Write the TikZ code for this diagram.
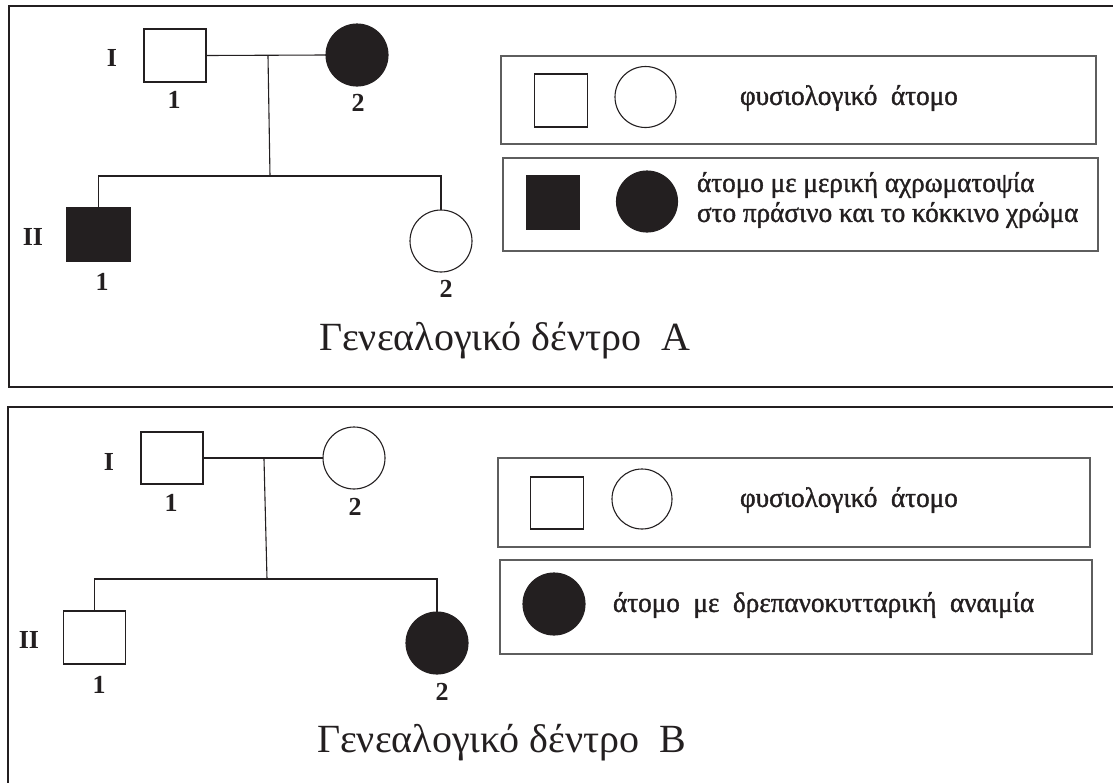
\documentclass[tikz,border=0pt]{standalone}
\usepackage{fontspec}
\setmainfont{Liberation Serif}
\newfontfamily\legfont[FakeBold=1.3,FakeStretch=0.97]{Liberation Serif}
\definecolor{ink}{HTML}{231F20}
\definecolor{boxgray}{HTML}{5E5E5E}
\begin{document}
\begin{tikzpicture}[x=1pt,y=-1pt,
  every node/.style={inner sep=0pt, outer sep=0pt},
  frame/.style={line width=2.6pt, draw=ink},
  legbox/.style={line width=1.6pt, draw=boxgray},
  male/.style={rectangle, draw=ink, line width=1.1pt, minimum width=62pt, minimum height=53pt},
  female/.style={circle, draw=ink, line width=1.1pt, minimum size=62pt},
  lmale/.style={rectangle, draw=ink, line width=1.1pt, minimum width=53pt, minimum height=53pt},
  lfemale/.style={circle, draw=ink, line width=1.1pt, minimum size=61pt},
  affected/.style={fill=ink},
  link/.style={draw=ink, line width=1.1pt},
  num/.style={font=\bfseries\fontsize{26}{28}\selectfont, text=ink},
  title/.style={font=\fontsize{40}{44}\selectfont, anchor=west, text=ink},
  legtext/.style={font=\legfont\fontsize{28}{30}\selectfont, anchor=west, align=left, text=ink},
]
\useasboundingbox (0,0) rectangle (1113,782);
\begin{scope}
  \clip (0,0) rectangle (1113,782);
  \draw[frame] (1125,6) -- (9,6) -- (9,387) -- (1125,387);
  \draw[frame] (1125,407) -- (8,407) -- (8,795);
\end{scope}

% ---------------- Tree A ----------------
\node[male] (A11) at (175,55.5) {};
\node[female, affected] (A12) at (357,55) {};
\node[male, affected, minimum width=63pt] (A21) at (98.5,234.5) {};
\node[female] (A22) at (441,241) {};
\node[num] (AgI) at (112,58) {I};
\node[num] (AgII) at (33,237) {II};
\node[num] (An11) at (174,100) {1};
\node[num] (An12) at (358,103) {2};
\node[num] (An21) at (102,282) {1};
\node[num] (An22) at (446,289) {2};
\coordinate (Am) at (268,56);
\coordinate (As) at (270,176);
\draw[link] (A11.east) -- (A12.west);
\draw[link] (Am) -- (As);
\draw[link] (A21.north) -- (A21.north |- As) -- (A22.north |- As) -- (A22.north);
\node[title] (At) at (319,341) {Γενεαλογικό δέντρο\ \ A};

\draw[legbox] (501,56) rectangle (1096,144);
\node[lmale] (LA1) at (561,100.5) {};
\node[lfemale] (LA2) at (645.5,97) {};
\node[legtext] (LA3) at (740,98) {φυσιολογικό\ \ άτομο};
\draw[legbox] (503,158) rectangle (1098,251);
\node[lmale, affected] (LA4) at (553,202.5) {};
\node[lfemale, affected] (LA5) at (647,201.5) {};
\node[legtext] (LA6) at (697,200) {άτομο με μερική αχρωματοψία\\στο πράσινο και το κόκκινο χρώμα};

% ---------------- Tree B ----------------
\node[male, minimum height=52pt] (B11) at (172,458) {};
\node[female] (B12) at (354,458) {};
\node[male] (B21) at (94.5,637.5) {};
\node[female, affected] (B22) at (437,643) {};
\node[num] (BgI) at (109,462) {I};
\node[num] (BgII) at (29,640) {II};
\node[num] (Bn11) at (171,503) {1};
\node[num] (Bn12) at (355,507) {2};
\node[num] (Bn21) at (99,685) {1};
\node[num] (Bn22) at (442,692) {2};
\coordinate (Bm) at (264,459);
\coordinate (Bs) at (267,579);
\draw[link] (B11.east) -- (B12.west);
\draw[link] (Bm) -- (Bs);
\draw[link] (B21.north) -- (B21.north |- Bs) -- (B22.north |- Bs) -- (B22.north);
\node[title] (Bt) at (317,743) {Γενεαλογικό δέντρο\ \ B};

\draw[legbox] (498,458) rectangle (1090,547);
\node[lmale, minimum height=52pt] (LB1) at (557,503) {};
\node[lfemale, minimum size=60pt] (LB2) at (642,499) {};
\node[legtext] (LB3) at (740,500) {φυσιολογικό\ \ άτομο};
\draw[legbox] (500,560) rectangle (1092,654);
\node[lfemale, affected, minimum size=62pt] (LB4) at (554,604) {};
\node[legtext] (LB5) at (613,605) {άτομο\ \ με\ \ δρεπανοκυτταρική\ \ αναιμία};
\end{tikzpicture}
\end{document}
